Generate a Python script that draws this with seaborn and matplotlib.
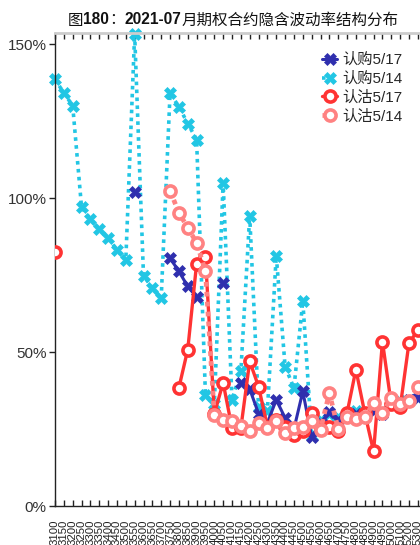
import numpy as np
import pandas as pd
import seaborn as sns
import matplotlib.pyplot as plt
from matplotlib.lines import Line2D
from matplotlib.offsetbox import TextArea, HPacker, AnchoredOffsetbox

sns.set_theme(style="white")
plt.rcParams['font.family'] = ['Liberation Sans', 'Noto Sans CJK SC']
plt.rcParams['axes.unicode_minus'] = False

nan = np.nan

# strike labels (50 steps up to 5000, then 100 steps)
strikes = [3100, 3150, 3200, 3250, 3300, 3350, 3400, 3450, 3500, 3550,
           3600, 3650, 3700, 3750, 3800, 3850, 3900, 3950, 4000, 4050,
           4100, 4150, 4200, 4250, 4300, 4350, 4400, 4450, 4500, 4550,
           4600, 4650, 4700, 4750, 4800, 4850, 4900, 4950, 5000, 5100,
           5200, 5300]

# implied vol in %
call_0517 = [nan, nan, nan, nan, nan, nan, nan, nan, nan, 102.1,
             nan, nan, nan, 80.5, 76.2, 71.3, 68.0, nan, nan, 72.4,
             nan, 40.0, 38.0, 30.0, 27.0, 34.5, 28.6, 25.0, 37.2, 22.5,
             27.0, 30.5, 28.0, 29.0, 30.0, 29.0, 31.0, 30.0, 33.0, 33.0,
             34.5, 35.0]
call_0514 = [138.6, 134.1, 130.0, 97.0, 93.2, 89.8, 87.0, 83.2, 79.9, 153.3,
             74.8, 70.8, 67.5, 134.0, 129.7, 124.2, 119.0, 36.0, 33.0, 105.0,
             34.5, 43.7, 94.3, 32.0, 31.0, 81.3, 45.3, 38.3, 66.5, 22.6,
             28.0, 30.0, 29.0, 30.0, 31.0, 30.0, 32.0, 31.0, 33.0, 34.0,
             34.0, 35.0]
put_0517 = [82.5, nan, nan, nan, nan, nan, nan, nan, nan, nan,
            nan, nan, nan, nan, 38.4, 50.8, 78.7, 81.0, 30.0, 40.0,
            25.3, 25.3, 47.0, 38.8, 25.8, 28.0, 25.8, 23.1, 24.2, 30.2,
            25.8, 25.8, 24.2, 30.2, 44.3, 30.2, 17.7, 53.4, 33.0, 32.0,
            53.0, 57.0]
put_0514 = [nan, nan, nan, nan, nan, nan, nan, nan, nan, nan,
            nan, nan, nan, 102.4, 95.2, 90.4, 85.5, 76.2, 29.6, 28.0,
            27.5, 25.9, 24.5, 26.9, 25.3, 27.5, 23.7, 25.3, 25.6, 27.5,
            24.8, 36.7, 25.0, 28.9, 28.2, 28.9, 33.4, 30.2, 35.0, 33.0,
            34.0, 38.8]

series = [
    ("认购5/17", call_0517, dict(color="#2f2fae", linestyle="-", linewidth=2.2,
                                  marker="X", markersize=8, markeredgewidth=0.5,
                                  markeredgecolor="#2f2fae", zorder=3)),
    ("认购5/14", call_0514, dict(color="#22c6e4", linestyle=(0, (1, 1.2)), linewidth=2.6,
                                  marker="X", markersize=8, markeredgewidth=0.5,
                                  markeredgecolor="#22c6e4", zorder=2)),
    ("认沽5/17", put_0517, dict(color="#ff3333", linestyle="-", linewidth=2.4,
                                 marker="o", markersize=8, markeredgewidth=2.6,
                                 markeredgecolor="#ff3333", markerfacecolor="white", zorder=4)),
    ("认沽5/14", put_0514, dict(color="#ff8282", linestyle=(0, (1, 1.1)), linewidth=3.4,
                                 marker="o", markersize=8, markeredgewidth=2.6,
                                 markeredgecolor="#ff8282", markerfacecolor="white", zorder=5)),
]

fig = plt.figure(figsize=(4.2, 5.45), dpi=100)
ax = fig.add_axes([55 / 420, 39 / 545, 45 * 8.85 / 420, 473 / 545])

handles = []
for name, vals, style in series:
    df = pd.DataFrame({"idx": np.arange(len(vals)), "val": vals})
    df["seg"] = df["val"].isna().cumsum()
    df = df.dropna()
    sns.lineplot(data=df, x="idx", y="val", units="seg", estimator=None,
                 sort=False, legend=False, ax=ax, clip_on=False if name == "认购5/14" else True,
                 **style)
    h = dict(style)
    h.pop("zorder")
    handles.append(Line2D([], [], label=name, **h))

ax.set_xlim(0, 45)
ax.set_ylim(0, 153.6)
ax.set_xlabel("")
ax.set_ylabel("")

ax.set_xticks(range(len(strikes)))
ax.set_xticklabels([str(s) for s in strikes], rotation=90, fontsize=8.2, color="#222222")
ax.set_yticks([0, 50, 100, 150])
ax.set_yticklabels(["0%", "50%", "100%", "150%"], fontsize=11, color="#333333")

ax.tick_params(axis="x", direction="in", length=4, width=1, color="#222222",
               top=True, bottom=True, pad=10)
ax.tick_params(axis="y", direction="out", length=4, width=1, color="#222222",
               left=True, pad=2)

ax.spines["right"].set_visible(False)
ax.spines["left"].set_color("#222222")
ax.spines["bottom"].set_color("#222222")
ax.spines["left"].set_linewidth(1)
ax.spines["bottom"].set_linewidth(1)
ax.spines["top"].set_color("#cccccc")
ax.spines["top"].set_linewidth(2)

ax.legend(handles=handles, loc="upper left", bbox_to_anchor=(322 / 420, 1 - 53 / 545),
          bbox_transform=fig.transFigure, frameon=False, fontsize=11,
          handlelength=1.0, handletextpad=0.3, labelspacing=0.3,
          borderpad=0, borderaxespad=0, numpoints=1)

# title with bold numbers
parts = [("图", "normal", "Noto Sans CJK SC"),
         ("180", "bold", "Liberation Sans"),
         ("：", "normal", "Noto Sans CJK SC"),
         ("2021-07", "bold", "Liberation Sans"),
         ("月期权合约隐含波动率结构分布", "normal", "Noto Sans CJK SC")]
boxes = [TextArea(t, textprops=dict(fontsize=11.2, fontweight=w, family=[f, "DejaVu Sans"],
                                    color="#111111"))
         for t, w, f in parts]
title = AnchoredOffsetbox(loc="center", child=HPacker(children=boxes, pad=0, sep=0, align="baseline"),
                          bbox_to_anchor=(233 / 420, 1 - 20 / 545), bbox_transform=fig.transFigure,
                          frameon=False, pad=0, borderpad=0)
fig.add_artist(title)

fig.savefig("out.png", dpi=100)
